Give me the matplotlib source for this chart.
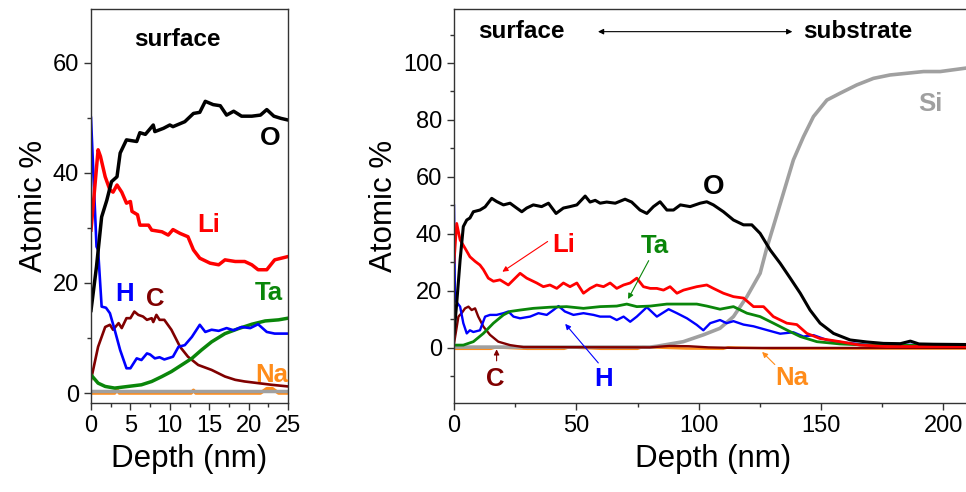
import matplotlib.pyplot as plt
from matplotlib.ticker import MultipleLocator

plt.rcParams['font.family'] = ['Liberation Sans', 'DejaVu Sans']

# ---- left panel (surface, 0-25 nm) ----
L_O_x = [0, 0.7, 1.35, 2.0, 2.6, 3.3, 3.7, 4.5, 5.8, 6.2, 6.9, 7.9, 8.1, 9.2, 10, 10.4, 11.9, 13, 13.8,
         14.5, 15.5, 16.4, 17.2, 18.1, 19.1, 20.4, 21.5, 22.3, 23.2, 24.1, 25]
L_O_y = [15, 23, 32, 35, 38.4, 39.3, 43.6, 46, 45.7, 47.3, 47, 48.7, 47.5, 48.1, 48.7, 48.4, 49.3, 50.8, 51,
         53, 52.4, 52.2, 50.5, 51.2, 50.3, 50.3, 50.5, 51.5, 50.3, 49.9, 49.6]
L_Li_x = [0, 0.9, 1.2, 1.8, 2.4, 2.8, 3.3, 3.9, 4.5, 5.0, 5.2, 5.9, 6.2, 7.3, 7.7, 9, 9.8, 10.4, 11.3, 12.3,
          13, 13.8, 15.1, 16.2, 17, 18.3, 19.5, 20.4, 21.2, 22.3, 23.3, 25]
L_Li_y = [29.6, 44.2, 43, 39.3, 36.9, 36.5, 37.8, 36.5, 34.5, 34.8, 33, 32.4, 30.5, 30.5, 29.6, 29.3, 28.7,
          29.7, 29, 28.4, 26, 24.5, 23.6, 23.3, 24.2, 23.9, 23.9, 23.3, 22.4, 22.4, 24.2, 24.8]
L_H_x = [0, 0.7, 0.9, 1.35, 1.9, 2.4, 3.0, 3.7, 4.5, 5.0, 5.8, 6.4, 7.1, 7.5, 8.1, 8.7, 9.3, 10.4, 11.1, 11.9,
         12.8, 13.8, 14.5, 15.3, 16.2, 17.2, 18.1, 19.1, 20.2, 21.2, 22.3, 23.3, 25]
L_H_y = [50, 26.6, 26, 15.7, 15.5, 14.5, 11.5, 7.8, 4.5, 4.5, 6.3, 6, 7.2, 7, 6.3, 6.5, 6.1, 6.6, 8.4, 8.7,
         10.2, 12.4, 11.1, 11.5, 11.3, 11.8, 11.4, 12, 11.8, 12.5, 11.1, 10.8, 10.8]
L_C_x = [0, 0.9, 1.8, 2.4, 2.8, 3.5, 3.9, 4.5, 5.0, 5.5, 6.0, 6.6, 7.1, 7.7, 7.9, 8.3, 8.7, 9.3, 10.2, 11.3,
         12.3, 13.6, 15.3, 17, 18.3, 19.5, 21.2, 22.9, 25]
L_C_y = [2.4, 8.4, 12, 12.4, 11.5, 12.7, 11.8, 13.6, 13.6, 14.8, 14.2, 13.9, 13.3, 13.6, 12.9, 14.2, 13.3,
         13.3, 11.5, 8.4, 6.6, 5.1, 4.2, 3, 2.4, 2.1, 1.8, 1.5, 1.2]
L_Ta_x = [0, 0.9, 1.8, 3.0, 4.7, 6.4, 7.7, 9, 10.2, 11.5, 12.8, 14.0, 15.3, 17, 18.7, 20.4, 22.1, 23.8, 25]
L_Ta_y = [3.3, 1.8, 1.2, 0.9, 1.2, 1.5, 2.1, 3, 3.9, 5.1, 6.3, 7.8, 9.3, 10.8, 11.7, 12.5, 13.1, 13.3, 13.6]
L_Na_x = [0, 3, 3.3, 3.6, 12.7, 13, 13.3, 21.5, 22.3, 23, 23.8, 25]
L_Na_y = [0, 0, 0.6, 0, 0, 0.5, 0, 0, 0.8, 0.8, 0, 0]
L_Si_x = [0, 25]
L_Si_y = [0.3, 0.3]

# ---- right panel (full profile, 0-210 nm) ----
R_O_x = [0, 1.1, 2.5, 3.8, 5.2, 6.5, 7.9, 10.6, 12.7, 15.4, 17.4, 20.2, 22.9, 25.6, 27.7, 29.7, 32.4, 35.8,
         38.6, 41.7, 44.7, 47.4, 50.2, 53.6, 55.6, 57.7, 59.7, 62.4, 65.9, 69.9, 72.6, 76, 78.8, 81.5, 84.2,
         87, 89.7, 92.5, 96.5, 100.6, 103.3, 106, 110.1, 114.2, 118.3, 121.7, 125.1, 129.2, 133.3, 137.4,
         141.5, 145.5, 149.6, 155.1, 161.9, 168.7, 175.5, 182.4, 186.5, 190, 196, 210]
R_O_y = [5, 15.7, 31, 42.6, 44.9, 45.6, 47.8, 48.4, 49.5, 52.5, 51.4, 50.2, 50.8, 49.1, 47.8, 49.1, 50.2, 49.6,
         50.8, 47.2, 49.1, 49.6, 50.2, 53.3, 51.2, 51.8, 50.8, 51.2, 50.8, 52.2, 51.2, 48.4, 47.2, 49.6, 51.3,
         48.4, 48.4, 50.2, 49.6, 50.8, 51.3, 50.2, 47.8, 44.9, 43.2, 43.2, 40.2, 34.4, 29.7, 24.5,
         19.2, 13.3, 8.7, 5.1, 2.8, 2.1, 1.6, 1.5, 2.4, 1.4, 1.3, 1.2]
R_Si_x = [0, 80, 82.9, 93.7, 101.9, 108.7, 114.2, 119.7, 125.1, 127.8, 130.5, 134.6, 138.7, 142.8, 146.9,
          152.4, 157.8, 164.6, 171.4, 178.2, 185.1, 191.9, 198.7, 210]
R_Si_y = [0.3, 0.3, 0.6, 2.2, 4.6, 6.9, 11, 18, 26.2, 35, 42.6, 54.3, 66, 74.1, 81.2,
          87, 89.4, 92.3, 94.6, 95.8, 96.4, 97, 97, 98.3]
R_Li_x = [0, 1.1, 2.5, 4.5, 6.5, 8.6, 10.6, 12, 14, 16.1, 18.8, 22.2, 24.3, 27, 29.7, 33.8, 36.5, 39.2, 42,
          44.7, 47.4, 50.2, 52.9, 55.6, 58.3, 61.1, 63.8, 66.5, 69.3, 72, 74.7, 77.4, 80.2, 82.9, 85.6, 88.3,
          91.1, 93.8, 96.5, 99.2, 103.3, 106, 110.1, 114.2, 118.3, 122.4, 126.5, 130.5, 136, 140.1, 144.2,
          149.6, 157.8, 166, 176.9, 210]
R_Li_y = [30, 43.7, 37.9, 35, 32, 30.4, 29.1, 27.5, 24.5, 23.4, 23.9, 22.1, 23.9, 26.2, 24.5, 22.8, 21.5, 22.1,
          20.9, 22.8, 21.5, 22.8, 19.2, 20.9, 22.1, 21.5, 22.8, 20.9, 22.1, 22.8, 24.5, 21.5, 20.9, 20.9, 20.3,
          21.5, 19.2, 20.3, 20.9, 21.5, 22.1, 20.9, 19.2, 18, 17.5, 14.5, 14.5, 11, 8.7, 8.2, 5.1,
          3.3, 2.2, 1, 0.5, 0.5]
R_Ta_x = [0, 3.8, 7.9, 12, 16.1, 20.2, 22.9, 27, 32.4, 39.2, 46, 52.9, 59.7, 66.5, 70.6, 74.7, 80.2, 87, 93.8,
          99.2, 103.3, 108.7, 114.2, 119.7, 125.1, 130.5, 136, 141.5, 148.3, 157.8, 168.7, 210]
R_Ta_y = [1, 1, 2.2, 5.1, 8.7, 11.6, 12.8, 13.3, 13.9, 14.3, 14.5, 13.9, 14.5, 14.7, 15.4, 14.5, 14.7, 15.4,
          15.4, 15.4, 14.7, 13.6, 14.5, 12.2, 11, 8.7, 6.3, 4, 2.2, 1.4, 1, 0.8]
R_H_x = [0, 0.4, 2.5, 3.8, 5.2, 6.5, 7.9, 10.6, 12.7, 14.7, 17.4, 20.2, 22.2, 24.3, 27, 31.1, 34.5, 37.9, 40.6,
         42.7, 45.3, 48.8, 52.9, 57, 59.7, 63.8, 66.5, 69.3, 72, 74.7, 78.8, 82.9, 87.7, 91.1, 95.2, 99.2,
         101.9, 104.7, 108.7, 111.4, 114.2, 118.3, 122.4, 127.8, 133.3, 138.7, 142.8, 146.9, 152.4, 159.2,
         168.7, 182.4, 210]
R_H_y = [50, 16.8, 14.5, 8.7, 5.1, 6.2, 5.6, 6.2, 11, 11.6, 11.6, 12.2, 12.8, 11, 10.4, 11, 12.2, 11.6, 13.3,
         14.7, 12.8, 11.6, 12.2, 11.6, 11, 11, 9.8, 11, 9.2, 11, 14.3, 11, 13.6, 12.2, 10.4, 8.1,
         6.2, 8.7, 9.8, 8.7, 9.4, 8.2, 7.6, 6.3, 5, 5.5, 4, 4.5, 2.8, 1.9,
         1.1, 1.1, 1.1]
R_C_x = [0, 1.8, 3.1, 4.5, 5.9, 7.2, 8.6, 9.9, 12, 14.7, 18.1, 22.9, 28.4, 80, 88, 96, 104, 115, 210]
R_C_y = [1.5, 11, 12.2, 13.9, 14.5, 13.3, 13.9, 11, 7.5, 4.6, 2.2, 1, 0.3, 0.2, 0.7, 0.6, 0.2, 0, 0]
R_Na_x = [0, 15, 17, 30, 45, 47, 60, 75, 77, 95, 110, 112, 130, 150, 180, 210]
R_Na_y = [-0.3, -0.3, 0.2, -0.3, -0.3, 0.2, -0.3, -0.3, 0.3, -0.2, -0.3, 0.2, -0.2, -0.2, -0.2, -0.2]

c_O, c_Li, c_H, c_C = 'black', '#ff0000', '#0000ff', '#800000'
c_Ta, c_Na, c_Si = '#0a860a', '#ff8c1a', '#a0a0a0'

fig = plt.figure(figsize=(9.66, 4.92), dpi=100)
ax1 = fig.add_axes([0.0942, 0.181, 0.204, 0.801])
ax2 = fig.add_axes([0.470, 0.181, 0.537, 0.801])

# left
lw = 2.5
ax1.plot(L_Na_x, L_Na_y, color=c_Na, lw=lw)
ax1.plot(L_Si_x, L_Si_y, color=c_Si, lw=2.5)
ax1.plot(L_C_x, L_C_y, color=c_C, lw=1.9)
ax1.plot(L_Ta_x, L_Ta_y, color=c_Ta, lw=lw)
ax1.plot(L_H_x, L_H_y, color=c_H, lw=1.9)
ax1.plot(L_Li_x, L_Li_y, color=c_Li, lw=lw)
ax1.plot(L_O_x, L_O_y, color=c_O, lw=lw)
ax1.set_xlim(0, 25)
ax1.set_ylim(-1.8, 69.8)
ax1.xaxis.set_major_locator(MultipleLocator(5))
ax1.xaxis.set_minor_locator(MultipleLocator(2.5))
ax1.yaxis.set_major_locator(MultipleLocator(20))
ax1.yaxis.set_minor_locator(MultipleLocator(10))
ax1.set_xlabel('Depth (nm)', fontsize=22.5, labelpad=5)
ax1.set_ylabel('Atomic %', fontsize=22.5, labelpad=3)

tb = dict(fontsize=18.5, fontweight='bold', ha='center', va='center')
ax1.text(10.9, 64.2, 'surface', color='black', fontsize=17.5, fontweight='bold', ha='center', va='center')
ax1.text(22.7, 46.4, 'O', color=c_O, fontsize=19, fontweight='bold', ha='center', va='center')
ax1.text(14.9, 30.5, 'Li', color=c_Li, **tb)
ax1.text(4.2, 18.0, 'H', color=c_H, **tb)
ax1.text(8.2, 17.0, 'C', color=c_C, **tb)
ax1.text(22.5, 18.1, 'Ta', color=c_Ta, **tb)
ax1.text(22.9, 3.3, 'Na', color=c_Na, **tb)

# right
ax2.plot(R_Na_x, R_Na_y, color=c_Na, lw=1.8)
ax2.plot(R_Si_x, R_Si_y, color=c_Si, lw=2.6)
ax2.plot(R_C_x, R_C_y, color=c_C, lw=1.7)
ax2.plot(R_H_x, R_H_y, color=c_H, lw=1.7)
ax2.plot(R_Ta_x, R_Ta_y, color=c_Ta, lw=2.0)
ax2.plot(R_Li_x, R_Li_y, color=c_Li, lw=2.0)
ax2.plot(R_O_x, R_O_y, color=c_O, lw=2.2)
ax2.set_xlim(0, 212)
ax2.set_ylim(-19.3, 119)
ax2.xaxis.set_major_locator(MultipleLocator(50))
ax2.xaxis.set_minor_locator(MultipleLocator(25))
ax2.yaxis.set_major_locator(MultipleLocator(20))
ax2.yaxis.set_minor_locator(MultipleLocator(10))
ax2.set_xlabel('Depth (nm)', fontsize=22.5, labelpad=5)
ax2.set_ylabel('Atomic %', fontsize=22.5, labelpad=3)

ax2.text(9.8, 111, 'surface', fontsize=17.5, fontweight='bold', ha='left', va='center')
ax2.text(142.7, 111, 'substrate', fontsize=17.5, fontweight='bold', ha='left', va='center')
ax2.annotate('', xy=(57.7, 111), xytext=(139.4, 111),
             arrowprops=dict(arrowstyle='<|-|>', color='black', lw=0.8, mutation_scale=8))
ax2.text(105.9, 56.5, 'O', color=c_O, fontsize=20, fontweight='bold', ha='center', va='center')
ax2.text(194.6, 85.6, 'Si', color=c_Si, **tb)
ax2.text(45, 36.1, 'Li', color=c_Li, **tb)
ax2.text(82.2, 35.8, 'Ta', color=c_Ta, **tb)
ax2.text(61.3, -11, 'H', color=c_H, **tb)
ax2.text(16.8, -10.9, 'C', color=c_C, **tb)
ax2.text(138.2, -10.5, 'Na', color=c_Na, **tb)

def arrow(ax, tail, head, color):
    ax.annotate('', xy=head, xytext=tail,
                arrowprops=dict(arrowstyle='-|>', color=color, lw=0.8, mutation_scale=8))

arrow(ax2, (39.2, 37.9), (18.8, 26.2), c_Li)
arrow(ax2, (80.1, 31.5), (70.6, 16.3), c_Ta)
arrow(ax2, (59.7, -6), (44.7, 9.2), c_H)
arrow(ax2, (17.4, -5.5), (17.4, 0.5), c_C)
arrow(ax2, (131.9, -6.5), (125.1, -0.7), c_Na)

for ax in (ax1, ax2):
    ax.tick_params(which='major', direction='out', length=5, width=1, labelsize=17, color='#333333')
    ax.tick_params(which='minor', direction='out', length=3, width=1, color='#333333')
    for s in ax.spines.values():
        s.set_linewidth(1)
        s.set_color('#333333')

plt.savefig('out.png', dpi=100)
